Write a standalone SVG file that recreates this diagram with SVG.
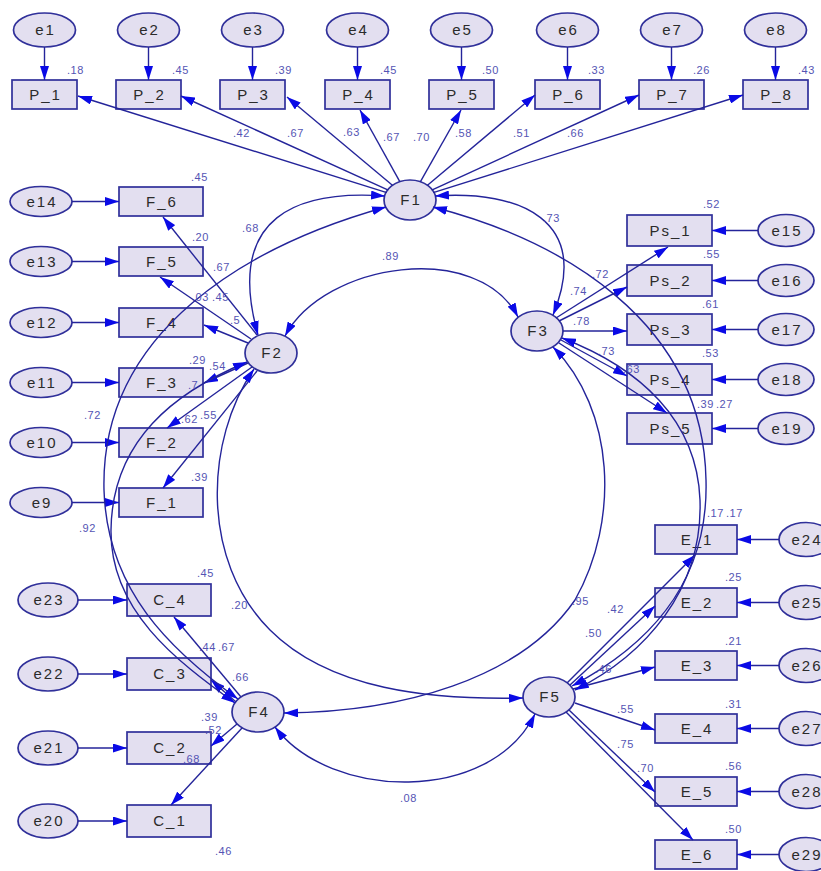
<svg xmlns="http://www.w3.org/2000/svg" width="821" height="871" viewBox="0 0 821 871">
<defs>
<marker id="ah" markerWidth="14" markerHeight="9" refX="14" refY="4.5" orient="auto-start-reverse" markerUnits="userSpaceOnUse">
<path d="M0,0 L14,4.5 L0,9 z" fill="#0a0ae6"/>
</marker>
<style>
.box{fill:#e3dff0;stroke:#30309a;stroke-width:1.7}
.ell{fill:#e3dff0;stroke:#30309a;stroke-width:1.7}
.t{font-family:"Liberation Sans",Arial,Helvetica,sans-serif;font-size:15px;fill:#2b2b2b;text-anchor:middle;letter-spacing:2px}
.n{font-family:"Liberation Sans",Arial,Helvetica,sans-serif;font-size:11px;fill:#5454b4;letter-spacing:0.5px}
.ln{fill:none;stroke:#24249a;stroke-width:1.4;marker-end:url(#ah)}
.cv{fill:none;stroke:#24249a;stroke-width:1.4;marker-start:url(#ah);marker-end:url(#ah)}
</style>
</defs>
<rect width="821" height="871" fill="#ffffff"/>

<g id="e1"><ellipse class="ell" cx="44.5" cy="30" rx="31" ry="17"/><text class="t" x="45.5" y="35">e1</text></g>
<g id="e2"><ellipse class="ell" cx="148.5" cy="30" rx="31" ry="17"/><text class="t" x="149.5" y="35">e2</text></g>
<g id="e3"><ellipse class="ell" cx="252.5" cy="30" rx="31" ry="17"/><text class="t" x="253.5" y="35">e3</text></g>
<g id="e4"><ellipse class="ell" cx="357.5" cy="30" rx="31" ry="17"/><text class="t" x="358.5" y="35">e4</text></g>
<g id="e5"><ellipse class="ell" cx="461.5" cy="30" rx="31" ry="17"/><text class="t" x="462.5" y="35">e5</text></g>
<g id="e6"><ellipse class="ell" cx="567.5" cy="30" rx="31" ry="17"/><text class="t" x="568.5" y="35">e6</text></g>
<g id="e7"><ellipse class="ell" cx="671.5" cy="30" rx="31" ry="17"/><text class="t" x="672.5" y="35">e7</text></g>
<g id="e8"><ellipse class="ell" cx="775.5" cy="30" rx="31" ry="17"/><text class="t" x="776.5" y="35">e8</text></g>

<g id="P_1"><rect class="box" x="12" y="80" width="65" height="29"/><text class="t" x="45.5" y="100">P_1</text></g>
<g id="P_2"><rect class="box" x="116" y="80" width="65" height="29"/><text class="t" x="149.5" y="100">P_2</text></g>
<g id="P_3"><rect class="box" x="220" y="80" width="65" height="29"/><text class="t" x="253.5" y="100">P_3</text></g>
<g id="P_4"><rect class="box" x="325" y="80" width="65" height="29"/><text class="t" x="358.5" y="100">P_4</text></g>
<g id="P_5"><rect class="box" x="429" y="80" width="65" height="29"/><text class="t" x="462.5" y="100">P_5</text></g>
<g id="P_6"><rect class="box" x="535" y="80" width="65" height="29"/><text class="t" x="568.5" y="100">P_6</text></g>
<g id="P_7"><rect class="box" x="639" y="80" width="65" height="29"/><text class="t" x="672.5" y="100">P_7</text></g>
<g id="P_8"><rect class="box" x="743" y="80" width="65" height="29"/><text class="t" x="776.5" y="100">P_8</text></g>

<g id="e14"><ellipse class="ell" cx="41" cy="201.5" rx="31" ry="15"/><text class="t" x="42" y="206.5">e14</text></g>
<g id="e13"><ellipse class="ell" cx="41" cy="261.5" rx="31" ry="15"/><text class="t" x="42" y="266.5">e13</text></g>
<g id="e12"><ellipse class="ell" cx="41" cy="322.5" rx="31" ry="15"/><text class="t" x="42" y="327.5">e12</text></g>
<g id="e11"><ellipse class="ell" cx="41" cy="382.5" rx="31" ry="15"/><text class="t" x="42" y="387.5">e11</text></g>
<g id="e10"><ellipse class="ell" cx="41" cy="442.5" rx="31" ry="15"/><text class="t" x="42" y="447.5">e10</text></g>
<g id="e9"><ellipse class="ell" cx="41" cy="502.5" rx="31" ry="15"/><text class="t" x="42" y="507.5">e9</text></g>

<g id="F_6"><rect class="box" x="119" y="187" width="84" height="29"/><text class="t" x="162" y="206.5">F_6</text></g>
<g id="F_5"><rect class="box" x="119" y="247" width="84" height="29"/><text class="t" x="162" y="266.5">F_5</text></g>
<g id="F_4"><rect class="box" x="119" y="308" width="84" height="29"/><text class="t" x="162" y="327.5">F_4</text></g>
<g id="F_3"><rect class="box" x="119" y="368" width="84" height="29"/><text class="t" x="162" y="387.5">F_3</text></g>
<g id="F_2"><rect class="box" x="119" y="428" width="84" height="29"/><text class="t" x="162" y="447.5">F_2</text></g>
<g id="F_1"><rect class="box" x="119" y="488" width="84" height="29"/><text class="t" x="162" y="507.5">F_1</text></g>

<g id="Ps_1"><rect class="box" x="627" y="215" width="85" height="31"/><text class="t" x="670.5" y="235.5">Ps_1</text></g>
<g id="Ps_2"><rect class="box" x="627" y="265" width="85" height="31"/><text class="t" x="670.5" y="285.5">Ps_2</text></g>
<g id="Ps_3"><rect class="box" x="627" y="314" width="85" height="31"/><text class="t" x="670.5" y="334.5">Ps_3</text></g>
<g id="Ps_4"><rect class="box" x="627" y="364" width="85" height="31"/><text class="t" x="670.5" y="384.5">Ps_4</text></g>
<g id="Ps_5"><rect class="box" x="627" y="413" width="85" height="31"/><text class="t" x="670.5" y="433.5">Ps_5</text></g>
<g id="e15"><ellipse class="ell" cx="786" cy="230.5" rx="28" ry="16"/><text class="t" x="787" y="235.5">e15</text></g>
<g id="e16"><ellipse class="ell" cx="786" cy="280.5" rx="28" ry="16"/><text class="t" x="787" y="285.5">e16</text></g>
<g id="e17"><ellipse class="ell" cx="786" cy="329.5" rx="28" ry="16"/><text class="t" x="787" y="334.5">e17</text></g>
<g id="e18"><ellipse class="ell" cx="786" cy="379.5" rx="28" ry="16"/><text class="t" x="787" y="384.5">e18</text></g>
<g id="e19"><ellipse class="ell" cx="786" cy="428.5" rx="28" ry="16"/><text class="t" x="787" y="433.5">e19</text></g>

<g id="E_1"><rect class="box" x="655" y="525" width="82" height="29"/><text class="t" x="697" y="544.5">E_1</text></g>
<g id="E_2"><rect class="box" x="655" y="588" width="82" height="29"/><text class="t" x="697" y="607.5">E_2</text></g>
<g id="E_3"><rect class="box" x="655" y="651" width="82" height="29"/><text class="t" x="697" y="670.5">E_3</text></g>
<g id="E_4"><rect class="box" x="655" y="714" width="82" height="29"/><text class="t" x="697" y="733.5">E_4</text></g>
<g id="E_5"><rect class="box" x="655" y="777" width="82" height="29"/><text class="t" x="697" y="796.5">E_5</text></g>
<g id="E_6"><rect class="box" x="655" y="840" width="82" height="29"/><text class="t" x="697" y="859.5">E_6</text></g>
<g id="e24"><ellipse class="ell" cx="806" cy="539.5" rx="27" ry="17"/><text class="t" x="807" y="544.5">e24</text></g>
<g id="e25"><ellipse class="ell" cx="806" cy="602.5" rx="27" ry="17"/><text class="t" x="807" y="607.5">e25</text></g>
<g id="e26"><ellipse class="ell" cx="806" cy="665.5" rx="27" ry="17"/><text class="t" x="807" y="670.5">e26</text></g>
<g id="e27"><ellipse class="ell" cx="806" cy="728.5" rx="27" ry="17"/><text class="t" x="807" y="733.5">e27</text></g>
<g id="e28"><ellipse class="ell" cx="806" cy="791.5" rx="27" ry="17"/><text class="t" x="807" y="796.5">e28</text></g>
<g id="e29"><ellipse class="ell" cx="806" cy="854.5" rx="27" ry="17"/><text class="t" x="807" y="859.5">e29</text></g>

<g id="C_4"><rect class="box" x="127" y="584" width="84" height="32"/><text class="t" x="170" y="605">C_4</text></g>
<g id="C_3"><rect class="box" x="127" y="658" width="84" height="32"/><text class="t" x="170" y="679">C_3</text></g>
<g id="C_2"><rect class="box" x="127" y="732" width="84" height="32"/><text class="t" x="170" y="753">C_2</text></g>
<g id="C_1"><rect class="box" x="127" y="805" width="84" height="32"/><text class="t" x="170" y="826">C_1</text></g>
<g id="e23"><ellipse class="ell" cx="48" cy="600" rx="30" ry="17"/><text class="t" x="49" y="605">e23</text></g>
<g id="e22"><ellipse class="ell" cx="48" cy="674" rx="30" ry="17"/><text class="t" x="49" y="679">e22</text></g>
<g id="e21"><ellipse class="ell" cx="48" cy="748" rx="30" ry="17"/><text class="t" x="49" y="753">e21</text></g>
<g id="e20"><ellipse class="ell" cx="48" cy="821" rx="30" ry="17"/><text class="t" x="49" y="826">e20</text></g>

<g id="F1"><ellipse class="ell" cx="410" cy="200" rx="26" ry="20"/><text class="t" x="411" y="205">F1</text></g>
<g id="F2"><ellipse class="ell" cx="271" cy="353" rx="26" ry="20"/><text class="t" x="272" y="358">F2</text></g>
<g id="F3"><ellipse class="ell" cx="537" cy="331" rx="26" ry="20"/><text class="t" x="538" y="336">F3</text></g>
<g id="F4"><ellipse class="ell" cx="258" cy="712" rx="26" ry="20"/><text class="t" x="259" y="717">F4</text></g>
<g id="F5"><ellipse class="ell" cx="549" cy="697" rx="26" ry="20"/><text class="t" x="550" y="702">F5</text></g>

<g id="connectors">
<path class="ln" d="M44.5,47 V80"/><path class="ln" d="M148.5,47 V80"/><path class="ln" d="M252.5,47 V80"/><path class="ln" d="M357.5,47 V80"/>
<path class="ln" d="M461.5,47 V80"/><path class="ln" d="M567.5,47 V80"/><path class="ln" d="M671.5,47 V80"/><path class="ln" d="M775.5,47 V80"/>
<path class="ln" d="M72,201.5 H119"/><path class="ln" d="M72,261.5 H119"/><path class="ln" d="M72,322.5 H119"/><path class="ln" d="M72,382.5 H119"/><path class="ln" d="M72,442.5 H119"/><path class="ln" d="M72,502.5 H119"/>
<path class="ln" d="M758,230.5 H712"/><path class="ln" d="M758,280.5 H712"/><path class="ln" d="M758,329.5 H712"/><path class="ln" d="M758,379.5 H712"/><path class="ln" d="M758,428.5 H712"/>
<path class="ln" d="M779,539.5 H737"/><path class="ln" d="M779,602.5 H737"/><path class="ln" d="M779,665.5 H737"/><path class="ln" d="M779,728.5 H737"/><path class="ln" d="M779,791.5 H737"/><path class="ln" d="M779,854.5 H737"/>
<path class="ln" d="M78,600 H127"/><path class="ln" d="M78,674 H127"/><path class="ln" d="M78,748 H127"/><path class="ln" d="M78,821 H127"/>
<path class="ln" d="M386.8,192.6 L78,96"/><path class="ln" d="M388.3,190.1 L181,96"/><path class="ln" d="M392.7,185.5 L287,97"/><path class="ln" d="M399.8,181.7 L360,110"/>
<path class="ln" d="M420.3,181.8 L461,110"/><path class="ln" d="M427.2,185.5 L535,95"/><path class="ln" d="M431.7,190.1 L639,95"/><path class="ln" d="M433.2,192.7 L743,95"/>
<path class="ln" d="M257,335 L163,217"/><path class="ln" d="M251,339 L160,277"/><path class="ln" d="M248,343 L204,325"/>
<path class="ln" d="M248,363 L204,383"/><path class="ln" d="M252,367 L167,428"/><path class="ln" d="M257,371 L163,488"/>
<path class="ln" d="M556,318 L668,247"/><path class="ln" d="M559,321 L627,287"/><path class="ln" d="M563,331 L627,331"/>
<path class="ln" d="M561,340 L627,376"/><path class="ln" d="M559,343 L667,413"/>
<path class="ln" d="M241,697 L174,617"/><path class="ln" d="M236,702 L211,680"/><path class="ln" d="M237,724 L211,746"/><path class="ln" d="M242,728 L171,805"/>
<path class="ln" d="M567,683 L695,555"/><path class="ln" d="M570,685 L655,606"/><path class="ln" d="M573,689 L655,667"/>
<path class="ln" d="M575,703 L655,730"/><path class="ln" d="M569,710 L655,792"/><path class="ln" d="M566,712 L693,840"/>
<path class="cv" d="M385,196 C300,190 224,214 258,335"/>
<path class="cv" d="M435,196 C520,190 592,220 553,315"/>
<path class="cv" d="M285,336 C325,262 478,240 518,317"/>
<path class="cv" d="M386,207 C250,245 100,330 104,490 C107,590 170,650 238,699"/>
<path class="cv" d="M247,362 C175,392 112,440 111,530 C110,610 175,660 235,703"/>
<path class="cv" d="M254,369 C205,440 200,560 270,630 C330,690 430,700 523,698"/>
<path class="cv" d="M553,347 C615,410 620,520 575,600 C520,680 400,712 284,713"/>
<path class="cv" d="M275,727 C330,800 490,805 535,714"/>
<path class="cv" d="M433,207 C560,240 703,320 706,480 C709,590 640,650 572,686"/>
<path class="cv" d="M562,338 C640,368 697,420 700,500 C703,590 645,655 575,690"/>
</g>

<g id="labels">
<text class="n" x="67" y="74">.18</text><text class="n" x="172" y="74">.45</text><text class="n" x="275" y="74">.39</text><text class="n" x="380" y="74">.45</text>
<text class="n" x="482" y="74">.50</text><text class="n" x="588" y="74">.33</text><text class="n" x="693" y="74">.26</text><text class="n" x="798" y="74">.43</text>
<text class="n" x="233" y="137">.42</text><text class="n" x="287" y="137">.67</text><text class="n" x="343" y="136">.63</text><text class="n" x="383" y="141">.67</text>
<text class="n" x="413" y="141">.70</text><text class="n" x="455" y="137">.58</text><text class="n" x="513" y="137">.51</text><text class="n" x="567" y="137">.66</text>
<text class="n" x="191" y="181">.45</text><text class="n" x="192" y="241">.20</text><text class="n" x="242" y="232">.68</text><text class="n" x="213" y="271">.67</text>
<text class="n" x="192" y="301">.03</text><text class="n" x="212" y="301">.45</text><text class="n" x="230" y="324">.5</text>
<text class="n" x="189" y="364">.29</text><text class="n" x="209" y="370">.54</text><text class="n" x="188" y="389">.7</text>
<text class="n" x="181" y="423">.62</text><text class="n" x="200" y="419">.55</text><text class="n" x="191" y="481">.39</text>
<text class="n" x="84" y="419">.72</text><text class="n" x="79" y="532">.92</text>
<text class="n" x="197" y="577">.45</text><text class="n" x="231" y="609">.20</text><text class="n" x="199" y="651">.44</text><text class="n" x="218" y="651">.67</text>
<text class="n" x="232" y="681">.66</text><text class="n" x="201" y="721">.39</text><text class="n" x="205" y="734">.52</text><text class="n" x="183" y="763">.68</text><text class="n" x="215" y="855">.46</text>
<text class="n" x="382" y="260">.89</text><text class="n" x="543" y="222">.73</text><text class="n" x="400" y="802">.08</text><text class="n" x="572" y="605">.95</text>
<text class="n" x="703" y="208">.52</text><text class="n" x="703" y="258">.55</text><text class="n" x="702" y="308">.61</text><text class="n" x="702" y="357">.53</text>
<text class="n" x="697" y="408">.39</text><text class="n" x="716" y="408">.27</text>
<text class="n" x="592" y="278">.72</text><text class="n" x="570" y="295">.74</text><text class="n" x="573" y="325">.78</text><text class="n" x="598" y="355">.73</text><text class="n" x="623" y="373">.63</text>
<text class="n" x="707" y="517">.17</text><text class="n" x="726" y="517">.17</text><text class="n" x="725" y="581">.25</text><text class="n" x="725" y="645">.21</text>
<text class="n" x="725" y="708">.31</text><text class="n" x="725" y="770">.56</text><text class="n" x="725" y="833">.50</text>
<text class="n" x="607" y="613">.42</text><text class="n" x="585" y="637">.50</text><text class="n" x="595" y="673">.46</text>
<text class="n" x="617" y="713">.55</text><text class="n" x="617" y="748">.75</text><text class="n" x="637" y="772">.70</text>
</g>
</svg>
